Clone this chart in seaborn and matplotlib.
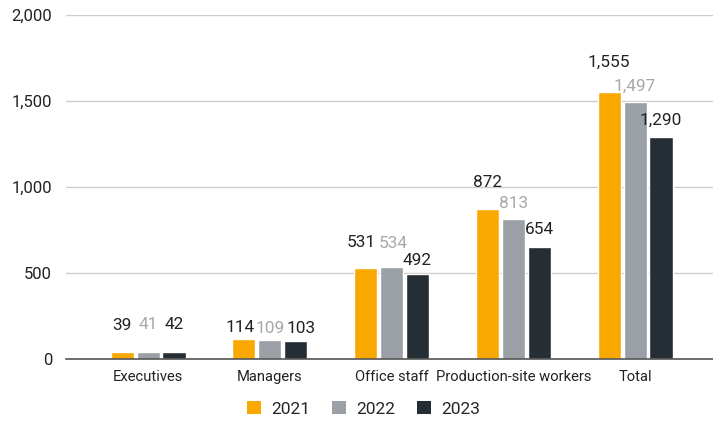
import matplotlib
matplotlib.use("Agg")
import matplotlib.pyplot as plt
from matplotlib.patches import Patch
import seaborn as sns
import pandas as pd

categories = ["Executives", "Managers", "Office staff", "Production-site workers", "Total"]
years = ["2021", "2022", "2023"]
values_2021 = [39, 114, 531, 872, 1555]
values_2022 = [41, 109, 534, 813, 1497]
values_2023 = [42, 103, 492, 654, 1290]
y_ticks = [0, 500, 1000, 1500, 2000]

colors = {"2021": "#F9A800", "2022": "#9AA0A6", "2023": "#252D35"}
label_colors = {"2021": "#222222", "2022": "#A8A8A8", "2023": "#222222"}
# label offsets (pixels) from the top centre of each bar, per year and category
label_dy = {
    "2021": [27, 12, 25, 27, 29],
    "2022": [27, 12, 24, 16, 15],
    "2023": [27, 13, 14, 17, 17],
}
label_dx = {
    "2021": [0, -4, -4, 0, 0],
    "2022": [0, 0, 2, 0, 0],
    "2023": [0, 5, 0, 0, 0],
}

rows = []
for yr, vals in zip(years, [values_2021, values_2022, values_2023]):
    for c, v in zip(categories, vals):
        rows.append({"category": c, "year": yr, "value": v})
df = pd.DataFrame(rows)

sns.set_theme(style="white")
plt.rcParams["font.family"] = ["Roboto", "DejaVu Sans"]

fig = plt.figure(figsize=(7.13, 4.21), dpi=100)
ax = fig.add_axes([66 / 713, (421 - 359) / 421, 1 - 66 / 713, (359 - 15) / 421])

sns.barplot(data=df, x="category", y="value", hue="year", order=categories,
            hue_order=years, palette=colors, width=0.64, gap=0.11,
            saturation=1, ax=ax, legend=False, errorbar=None)

ax.set_ylim(0, 2000)
ax.set_xlim(-0.674, 4.64)
ax.set_yticks(y_ticks)
ax.set_yticklabels([f"{t:,}" for t in y_ticks])
ax.yaxis.grid(True, color="#CCCCCC", linewidth=1.0)
ax.set_axisbelow(True)
for s in ["top", "right", "left"]:
    ax.spines[s].set_visible(False)
ax.spines["bottom"].set_color("#555555")
ax.spines["bottom"].set_linewidth(1.2)
ax.tick_params(axis="y", length=0, pad=10, labelsize=12, labelcolor="#222222")
ax.tick_params(axis="x", length=0, pad=8, labelsize=10.6, labelcolor="#222222")
ax.set_xlabel("")
ax.set_ylabel("")

for container, yr in zip(ax.containers, years):
    for bar, dx, dy in zip(container, label_dx[yr], label_dy[yr]):
        h = bar.get_height()
        ax.annotate(f"{int(round(h)):,}", (bar.get_x() + bar.get_width() / 2, h),
                    xytext=(dx * 0.72, dy * 0.72), textcoords="offset points",
                    ha="center", va="center", fontsize=12.4,
                    color=label_colors[yr])

handles = [Patch(facecolor=colors[y], edgecolor="none") for y in years]
fig.legend(handles, years, loc="center", bbox_to_anchor=(364 / 713, (421 - 409) / 421),
           ncol=3, frameon=False, fontsize=12.5, handlelength=0.8, handleheight=0.8,
           handletextpad=0.6, columnspacing=1.25)

fig.savefig("out.png", dpi=100)
